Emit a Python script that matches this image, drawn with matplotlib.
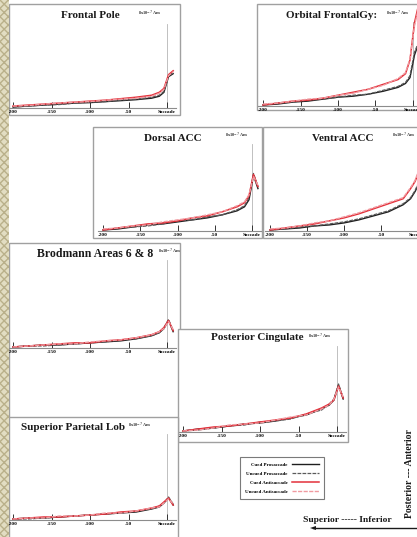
import matplotlib
matplotlib.use("Agg")
import matplotlib.pyplot as plt
from matplotlib.patches import Rectangle
from matplotlib.lines import Line2D

W, H = 417, 537

times = [-200, -180, -160, -140, -120, -100, -80, -60, -40, -20, -10, -4, 2, 8]
tick_pos = [-200, -150, -100, -50, 0]
tick_labels = ['-200', '-150', '-100', '-50', 'Saccade']
series_names = ['Cued Prosaccade', 'Uncued Prosaccade', 'Cued Antisaccade', 'Uncued Antisaccade']

# rows: cued pro, uncued pro, cued anti, uncued anti (in units of the 8x10^-7 Am scale bar)
frontal_pole = [
    [0.01, 0.02, 0.03, 0.04, 0.05, 0.055, 0.065, 0.075, 0.085, 0.10, 0.12, 0.16, 0.32, 0.35],
    [0.01, 0.02, 0.03, 0.035, 0.05, 0.06, 0.065, 0.08, 0.09, 0.11, 0.13, 0.17, 0.33, 0.36],
    [0.02, 0.03, 0.04, 0.05, 0.06, 0.07, 0.08, 0.095, 0.11, 0.13, 0.16, 0.20, 0.34, 0.38],
    [0.02, 0.025, 0.04, 0.05, 0.06, 0.065, 0.08, 0.09, 0.10, 0.12, 0.15, 0.19, 0.33, 0.37],
]
orbital_frontal = [
    [0.01, 0.02, 0.04, 0.05, 0.07, 0.09, 0.10, 0.12, 0.15, 0.19, 0.23, 0.29, 0.52, 0.65],
    [0.01, 0.03, 0.04, 0.06, 0.07, 0.09, 0.11, 0.12, 0.16, 0.20, 0.24, 0.31, 0.55, 0.66],
    [0.01, 0.03, 0.05, 0.06, 0.08, 0.11, 0.14, 0.17, 0.22, 0.27, 0.33, 0.47, 0.85, 1.05],
    [0.02, 0.03, 0.05, 0.07, 0.08, 0.11, 0.13, 0.17, 0.21, 0.28, 0.34, 0.48, 0.82, 1.02],
]
dorsal_acc = [
    [0.01, 0.02, 0.04, 0.06, 0.07, 0.09, 0.11, 0.13, 0.16, 0.20, 0.24, 0.31, 0.55, 0.42],
    [0.01, 0.03, 0.04, 0.05, 0.07, 0.10, 0.11, 0.14, 0.16, 0.21, 0.25, 0.33, 0.57, 0.44],
    [0.01, 0.03, 0.05, 0.07, 0.08, 0.10, 0.13, 0.15, 0.19, 0.24, 0.28, 0.35, 0.56, 0.44],
    [0.02, 0.03, 0.05, 0.06, 0.09, 0.11, 0.13, 0.16, 0.19, 0.25, 0.29, 0.36, 0.54, 0.45],
]
ventral_acc = [
    [0.01, 0.02, 0.03, 0.05, 0.06, 0.08, 0.11, 0.15, 0.19, 0.26, 0.32, 0.39, 0.48, 0.52],
    [0.01, 0.02, 0.04, 0.05, 0.07, 0.09, 0.12, 0.16, 0.20, 0.27, 0.33, 0.40, 0.50, 0.54],
    [0.01, 0.03, 0.05, 0.07, 0.10, 0.13, 0.17, 0.22, 0.27, 0.32, 0.42, 0.49, 0.60, 0.66],
    [0.02, 0.03, 0.05, 0.08, 0.10, 0.14, 0.18, 0.23, 0.28, 0.33, 0.43, 0.50, 0.62, 0.68],
]
brodmann_6_8 = [
    [0.01, 0.02, 0.03, 0.03, 0.04, 0.05, 0.06, 0.07, 0.09, 0.12, 0.15, 0.19, 0.27, 0.16],
    [0.01, 0.02, 0.02, 0.03, 0.04, 0.05, 0.06, 0.08, 0.09, 0.12, 0.15, 0.20, 0.28, 0.17],
    [0.01, 0.02, 0.03, 0.04, 0.05, 0.05, 0.07, 0.08, 0.10, 0.13, 0.16, 0.20, 0.27, 0.17],
    [0.01, 0.02, 0.03, 0.04, 0.04, 0.06, 0.07, 0.08, 0.10, 0.13, 0.16, 0.19, 0.26, 0.18],
]
posterior_cingulate = [
    [0.01, 0.03, 0.04, 0.06, 0.08, 0.09, 0.11, 0.14, 0.17, 0.23, 0.27, 0.32, 0.47, 0.33],
    [0.01, 0.02, 0.04, 0.06, 0.07, 0.10, 0.11, 0.13, 0.18, 0.22, 0.28, 0.33, 0.48, 0.34],
    [0.01, 0.03, 0.05, 0.06, 0.08, 0.10, 0.12, 0.14, 0.18, 0.24, 0.28, 0.32, 0.46, 0.34],
    [0.01, 0.02, 0.04, 0.07, 0.08, 0.09, 0.12, 0.15, 0.17, 0.23, 0.27, 0.33, 0.45, 0.35],
]
superior_parietal = [
    [0.01, 0.02, 0.02, 0.03, 0.04, 0.05, 0.06, 0.07, 0.08, 0.11, 0.13, 0.17, 0.22, 0.15],
    [0.01, 0.01, 0.02, 0.03, 0.04, 0.05, 0.06, 0.07, 0.09, 0.11, 0.14, 0.17, 0.23, 0.16],
    [0.01, 0.02, 0.03, 0.03, 0.04, 0.05, 0.06, 0.08, 0.09, 0.12, 0.14, 0.18, 0.22, 0.15],
    [0.01, 0.02, 0.02, 0.04, 0.04, 0.05, 0.07, 0.07, 0.09, 0.12, 0.13, 0.17, 0.21, 0.16],
]

SERIF = 'Liberation Serif'
styles = [
    dict(color='#1e1e1e', lw=1.0, ls='-'),
    dict(color='#5a5a5a', lw=0.9, ls=(0, (3, 1))),
    dict(color='#e3303a', lw=1.1, ls='-'),
    dict(color='#f09aa0', lw=1.0, ls=(0, (3, 1))),
]

fig = plt.figure(figsize=(W / 100, H / 100), dpi=100)
fig.patch.set_facecolor('white')


def fig_xy(x, y):
    return x / W, 1 - y / H


def panel(title, data, box, x200, x0, base, top, title_xy, unit_xy, z, title_size=8):
    s = (x0 - x200) / 200.0
    left = x200 - 7 * s
    right = x0 + 12 * s
    ax = fig.add_axes([left / W, 1 - base / H, (right - left) / W, (base - top) / H])
    ax.set_zorder(z)
    ax.patch.set_alpha(0)
    ax.add_patch(Rectangle(fig_xy(box[0], box[3]), (box[2] - box[0]) / W, (box[3] - box[1]) / H,
                           transform=fig.transFigure, facecolor='white', edgecolor='#a0a0a0',
                           lw=1.0, clip_on=False, zorder=0))
    ax.plot([0, 0], [0, 0.86], color='#b5b5b5', lw=0.6, zorder=1)
    for vals, st in zip(data, styles):
        ax.plot(times, vals, zorder=2, **st)
    ax.set_xlim(-207, 12)
    ax.set_ylim(0, 1)
    ax.set_yticks([])
    ax.set_xticks(tick_pos, tick_labels)
    for lab in ax.get_xticklabels():
        lab.set_fontfamily(SERIF)
        lab.set_fontweight('bold')
        lab.set_fontsize(3.8)
    ax.tick_params(axis='x', direction='in', length=4, width=0.7, pad=1.2, color='#333333')
    for side in ['top', 'left', 'right']:
        ax.spines[side].set_visible(False)
    ax.spines['bottom'].set_color('#8c8c8c')
    ax.spines['bottom'].set_linewidth(0.8)
    ax.text(*fig_xy(*title_xy), title, transform=fig.transFigure, ha='center', va='center',
            fontsize=title_size, fontweight='bold', family=SERIF, color='#1a1a1a', zorder=3)
    ax.text(*fig_xy(*unit_xy), '8x10$^{-7}$ Am', transform=fig.transFigure, ha='center',
            va='center', fontsize=3.2, fontweight='bold', family=SERIF, color='#333333', zorder=3)
    return ax


panel('Frontal Pole', frontal_pole, (9, 4, 180, 115), 13, 167, 108, 10, (90, 16), (150, 13), 1)
panel('Orbital FrontalGy:', orbital_frontal, (257, 4, 422, 110), 263, 413, 106, 8, (332, 16), (398, 13), 2)
panel('Dorsal ACC', dorsal_acc, (93, 127, 262, 238), 103, 252, 231, 130, (173, 138), (237, 135), 3)
panel('Ventral ACC', ventral_acc, (263, 127, 422, 238), 270, 418, 231, 130, (343, 138), (404, 135), 4)
panel('Brodmann Areas 6 & 8', brodmann_6_8, (9, 243, 180, 418), 13, 167, 348, 246, (95, 254), (170, 251), 5,
      title_size=8.5)
panel('Posterior Cingulate', posterior_cingulate, (178, 329, 348, 442), 183, 337, 432, 332, (257, 338), (320, 336), 6)
panel('Superior Parietal Lob', superior_parietal, (9, 417, 178, 545), 13, 167, 520, 420, (73, 428), (140, 425), 7)

handles = [Line2D([], [], **st) for st in styles]
leg = fig.legend(handles, series_names, loc='center', bbox_to_anchor=fig_xy(282, 478),
                 markerfirst=False, prop={'family': SERIF, 'weight': 'bold', 'size': 3.6},
                 handlelength=5.5, handletextpad=0.8, labelspacing=0.9, borderpad=1.0,
                 fancybox=False, edgecolor='#7a7a7a', framealpha=1)
leg.get_frame().set_linewidth(0.8)
leg.set_zorder(20)

fig.text(*fig_xy(347, 520), 'Superior ----- Inferior', ha='center', va='center', fontsize=6.8,
         fontweight='bold', family=SERIF, color='#1a1a1a', zorder=20)
fig.text(*fig_xy(409, 474), 'Posterior --- Anterior', ha='center', va='center', rotation=90,
         fontsize=7, fontweight='bold', family=SERIF, color='#1a1a1a', zorder=20)
fig.add_artist(plt.Line2D([313 / W, 416 / W], [1 - 528 / H, 1 - 528 / H], color='#1a1a1a',
                          lw=1.0, zorder=20))
fig.patches.append(plt.Polygon([fig_xy(310, 528), fig_xy(316, 526), fig_xy(316, 530)],
                               closed=True, transform=fig.transFigure, facecolor='#1a1a1a',
                               edgecolor='none', zorder=20, figure=fig))

# textured strip down the left edge
fig.patches.append(Rectangle((0, 0), 8.5 / W, 1, transform=fig.transFigure, facecolor='#e2ddc2',
                             edgecolor='#b9b08a', hatch='xxxx', lw=0, zorder=30, figure=fig))

fig.savefig('out.png', dpi=100)
